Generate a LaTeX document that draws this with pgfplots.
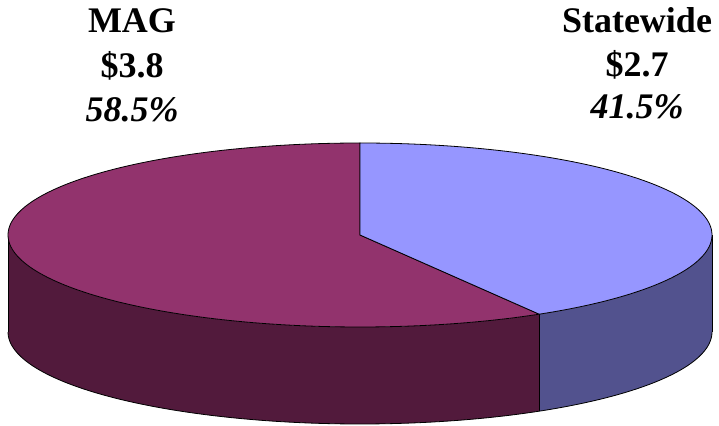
\documentclass[border=0pt]{standalone}
\usepackage{pgfplots}
\pgfplotsset{compat=1.18}
\usepgfplotslibrary{fillbetween}
\usepackage{fontspec}
\setmainfont{Liberation Serif}
\definecolor{magtop}{HTML}{92336D}
\definecolor{magside}{HTML}{521A3C}
\definecolor{sttop}{HTML}{9696FF}
\definecolor{stside}{HTML}{52528E}
\begin{document}
\begin{tikzpicture}
% data: share of Statewide (percent)
\def\pStatewide{41.5}
\def\pMAG{58.5}
\pgfmathsetmacro{\aS}{90-3.6*\pStatewide+360}
\def\cx{360}\def\cy{235}\def\rx{352}\def\ry{92}\def\dd{97}
\begin{axis}[width=719pt,height=425pt,scale only axis,
  xmin=0,xmax=719,ymin=0,ymax=425,y dir=reverse,hide axis,clip=false]
% MAG wall
\addplot[name path=magT, draw=none, domain=180:\aS, samples=90] ({\cx+\rx*cos(x)},{\cy-\ry*sin(x)});
\addplot[name path=magB, draw=black, line width=0.8pt, domain=180:\aS, samples=90] ({\cx+\rx*cos(x)},{\cy-\ry*sin(x)+\dd});
\addplot[magside] fill between[of=magT and magB];
% Statewide wall
\addplot[name path=stT, draw=none, domain=\aS:360, samples=40] ({\cx+\rx*cos(x)},{\cy-\ry*sin(x)});
\addplot[name path=stB, draw=black, line width=0.8pt, domain=\aS:360, samples=40] ({\cx+\rx*cos(x)},{\cy-\ry*sin(x)+\dd});
\addplot[stside] fill between[of=stT and stB];
% vertical edges
\addplot[black, line width=0.8pt, domain=0:1, samples=2] ({\cx+\rx*cos(180)},{\cy-\ry*sin(180)+\dd*x});
\addplot[black, line width=0.8pt, domain=0:1, samples=2] ({\cx+\rx*cos(\aS)},{\cy-\ry*sin(\aS)+\dd*x});
\addplot[black, line width=0.8pt, domain=0:1, samples=2] ({\cx+\rx*cos(360)},{\cy-\ry*sin(360)+\dd*x});
% top faces
\addplot[fill=magtop, draw=black, line width=0.8pt, domain=90:\aS, samples=150] ({\cx+\rx*cos(x)},{\cy-\ry*sin(x)}) -- (axis cs:\cx,\cy) -- cycle;
\addplot[fill=sttop, draw=black, line width=0.8pt, domain=\aS-360:90, samples=110] ({\cx+\rx*cos(x)},{\cy-\ry*sin(x)}) -- (axis cs:\cx,\cy) -- cycle;
% labels
\node[anchor=base, font=\bfseries\fontsize{36}{44}\selectfont] at (axis cs:132,33) {MAG};
\node[anchor=base, font=\bfseries\fontsize{36}{44}\selectfont] at (axis cs:132,78) {\$3.8};
\node[anchor=base, font=\bfseries\itshape\fontsize{36}{44}\selectfont] at (axis cs:132,122) {58.5\%};
\node[anchor=base, font=\bfseries\fontsize{36}{44}\selectfont] at (axis cs:637,33) {Statewide};
\node[anchor=base, font=\bfseries\fontsize{36}{44}\selectfont] at (axis cs:637,77) {\$2.7};
\node[anchor=base, font=\bfseries\itshape\fontsize{36}{44}\selectfont] at (axis cs:637,119) {41.5\%};
\end{axis}
\pgfresetboundingbox
\path (0,0) rectangle (719pt,425pt);
\end{tikzpicture}
\end{document}
